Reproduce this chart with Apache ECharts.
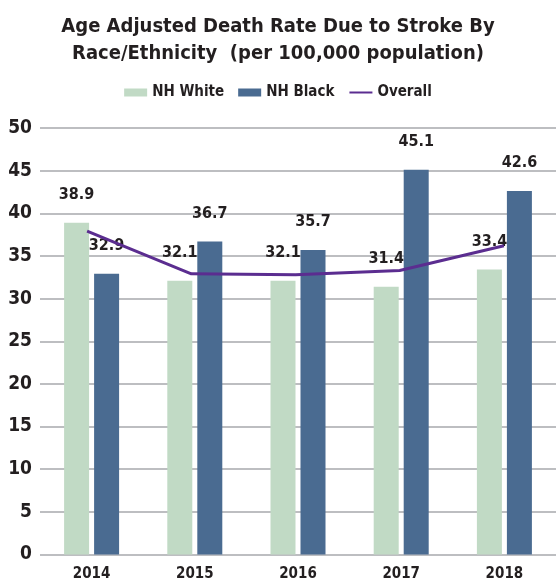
<!DOCTYPE html>
<html><head><meta charset="utf-8">
<script src="https://cdn.jsdelivr.net/npm/echarts@6/dist/echarts.min.js"></script>
<style>html,body{margin:0;padding:0;background:#fff}#c{width:556px;height:582px}</style>
</head><body><div id="c"></div>
<script>
const categories = ['2014','2015','2016','2017','2018'];
const nhWhite = [38.9, 32.1, 32.1, 31.4, 33.4];
const nhBlack = [32.9, 36.7, 35.7, 45.1, 42.6];
const overall = [37.9, 32.9, 32.8, 33.3, 36.2];
const yTicks = [0,5,10,15,20,25,30,35,40,45,50];

const FONT = '"DejaVu Sans Condensed","Liberation Sans Narrow",sans-serif';
const chart = echarts.init(document.getElementById('c'));
const lbl = {show:true, position:'top', distance:20, color:'#231f20', fontFamily:FONT, fontWeight:'bold', fontSize:16};
chart.setOption({
  animation:false,
  title:{text:'Age Adjusted Death Rate Due to Stroke By\nRace/Ethnicity  (per 100,000 population)', left:'center', top:8,
    textStyle:{fontFamily:FONT, fontWeight:'bold', fontSize:20, lineHeight:27, color:'#231f20'}},
  legend:{top:80, left:'center', itemWidth:23, itemHeight:8, itemGap:14,
    textStyle:{fontFamily:FONT, fontWeight:'bold', fontSize:15, color:'#231f20'},
    data:[{name:'NH White',icon:'rect'},{name:'NH Black',icon:'rect'},{name:'Overall', itemStyle:{opacity:0}}]},
  grid:[{left:40, top:128, width:525, bottom:27.5},{left:35, top:128, width:551, bottom:27.5}],
  xAxis:[{type:'category', data:categories, gridIndex:0, axisLine:{show:false}, axisTick:{show:false},
      axisLabel:{fontFamily:FONT, fontWeight:'bold', fontSize:15, color:'#231f20', margin:12}},
    {type:'category', data:categories, gridIndex:1, show:false}],
  yAxis:[{type:'value', gridIndex:0, min:0, max:50, interval:5,
      axisLabel:{fontFamily:FONT, fontWeight:'bold', fontSize:19, color:'#231f20', margin:8,
        formatter:v=>yTicks.includes(v)?String(v):''},
      splitLine:{lineStyle:{color:'#a7a9ac', width:1.5}}},
    {type:'value', gridIndex:1, min:0, max:50, show:false}],
  series:[
    {name:'NH White', type:'bar', data:nhWhite, barWidth:25, barGap:'20%', itemStyle:{color:'#c1dac5'}, label:lbl},
    {name:'NH Black', type:'bar', data:nhBlack, barWidth:25, itemStyle:{color:'#4a6b91'}, label:lbl},
    {name:'Overall', type:'line', data:overall, xAxisIndex:1, yAxisIndex:1, symbol:'none',
      lineStyle:{color:'#5b2d90', width:3}, itemStyle:{color:'#5b2d90'}}
  ]
});
</script></body></html>
